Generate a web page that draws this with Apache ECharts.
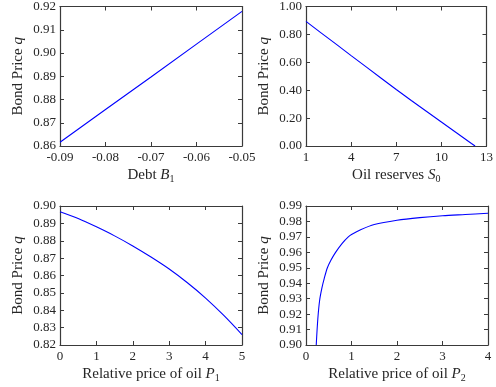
<!DOCTYPE html>
<html>
<head>
<meta charset="utf-8">
<script src="https://cdn.jsdelivr.net/npm/echarts@6/dist/echarts.min.js"></script>
<style>
  html, body { margin: 0; padding: 0; background: #ffffff; }
  #chart { width: 496px; height: 387px; }
</style>
</head>
<body>
<div id="chart"></div>
<script>
// Bond price q against debt, reserves and oil prices
const debtB1 = [-0.09, -0.08, -0.07, -0.06, -0.05];
const qDebt = [0.8616, 0.8757, 0.8897, 0.9038, 0.9179];

const reservesS0 = [1, 2, 3, 4, 5, 6, 7, 8, 9, 10, 11, 12, 12.24];
const qReserves = [0.893, 0.811, 0.730, 0.648, 0.567, 0.486, 0.405, 0.326, 0.249, 0.172, 0.095, 0.018, 0.0];

const priceP1 = [0, 0.5, 1, 1.5, 2, 2.5, 3, 3.5, 4, 4.5, 5];
const qP1 = [0.8967, 0.8928, 0.8880, 0.8828, 0.8770, 0.8706, 0.8637, 0.8558, 0.8470, 0.8370, 0.8260];

const priceP2 = [0.225, 0.26, 0.30, 0.35, 0.40, 0.47, 0.55, 0.65, 0.80, 0.93, 1.0, 1.2, 1.5, 2.0, 2.5, 3.0, 3.5, 4.0];
const qP2 = [0.900, 0.917, 0.929, 0.937, 0.943, 0.950, 0.955, 0.960, 0.966, 0.970, 0.9715, 0.9746, 0.978, 0.9808, 0.9825, 0.9837, 0.9845, 0.9853];

// Tick values
const ticksDebt = [-0.09, -0.08, -0.07, -0.06, -0.05];
const ticksQDebt = [0.86, 0.87, 0.88, 0.89, 0.90, 0.91, 0.92];
const ticksS0 = [1, 4, 7, 10, 13];
const ticksQReserves = [0, 0.2, 0.4, 0.6, 0.8, 1.0];
const ticksP1 = [0, 1, 2, 3, 4, 5];
const ticksQP1 = [0.82, 0.83, 0.84, 0.85, 0.86, 0.87, 0.88, 0.89, 0.90];
const ticksP2 = [0, 1, 2, 3, 4];
const ticksQP2 = [0.90, 0.91, 0.92, 0.93, 0.94, 0.95, 0.96, 0.97, 0.98, 0.99];

const FONT = 'Liberation Serif';
const INK = '#262626';
const AXIS = '#3a3a3a';

const rich = {
  it: { fontFamily: FONT, fontStyle: 'italic', fontSize: 15, color: INK },
  sub: { fontFamily: FONT, fontSize: 10, color: INK, padding: [7, 0, 0, 0] }
};

const panels = [
  { left: 60, top: 6, height: 140, x: debtB1, y: qDebt, xr: [-0.09, -0.05], yr: [0.86, 0.92],
    xt: ticksDebt, yt: ticksQDebt, xd: 2, yd: 2, smooth: false, xName: 'Debt {it|B}{sub|1}' },
  { left: 306, top: 6, height: 140, x: reservesS0, y: qReserves, xr: [1, 13], yr: [0, 1],
    xt: ticksS0, yt: ticksQReserves, xd: 0, yd: 2, smooth: false, xName: 'Oil reserves {it|S}{sub|0}' },
  { left: 60, top: 206, height: 139, x: priceP1, y: qP1, xr: [0, 5], yr: [0.82, 0.90],
    xt: ticksP1, yt: ticksQP1, xd: 0, yd: 2, smooth: 0.3, xName: 'Relative price of oil {it|P}{sub|1}' },
  { left: 306, top: 206, height: 139, x: priceP2, y: qP2, xr: [0, 4], yr: [0.90, 0.99],
    xt: ticksP2, yt: ticksQP2, xd: 0, yd: 2, smooth: 0.3, xName: 'Relative price of oil {it|P}{sub|2}' }
];

const grid = [], xAxis = [], yAxis = [], series = [];

panels.forEach((p, i) => {
  grid.push({ left: p.left, top: p.top, width: 182, height: p.height, containLabel: false });
  const line = { show: true, onZero: false, lineStyle: { color: AXIS, width: 1.2 } };
  const tick = (vals) => ({ show: true, inside: true, length: 4, customValues: vals, lineStyle: { color: AXIS, width: 1 } });
  xAxis.push({
    type: 'value', gridIndex: i, position: 'bottom', min: p.xr[0], max: p.xr[1],
    axisLine: line, axisTick: tick(p.xt), splitLine: { show: false },
    axisLabel: { customValues: p.xt, margin: 5, color: INK, fontFamily: FONT, fontSize: 13,
      formatter: (v) => Number(v).toFixed(p.xd), showMinLabel: true, showMaxLabel: true, hideOverlap: false },
    name: p.xName, nameLocation: 'middle', nameGap: 21,
    nameTextStyle: { fontFamily: FONT, fontSize: 15, color: INK, rich: rich }
  });
  xAxis.push({
    type: 'value', gridIndex: i, position: 'top', min: p.xr[0], max: p.xr[1],
    axisLine: line, axisTick: tick(p.xt), axisLabel: { show: false }, splitLine: { show: false }
  });
  yAxis.push({
    type: 'value', gridIndex: i, position: 'left', min: p.yr[0], max: p.yr[1],
    axisLine: line, axisTick: tick(p.yt), splitLine: { show: false },
    axisLabel: { customValues: p.yt, margin: 4, color: INK, fontFamily: FONT, fontSize: 13,
      formatter: (v) => Number(v).toFixed(p.yd), showMinLabel: true, showMaxLabel: true, hideOverlap: false },
    name: 'Bond Price {it|q}', nameLocation: 'middle', nameGap: 34,
    nameTextStyle: { fontFamily: FONT, fontSize: 15, color: INK, rich: rich }
  });
  yAxis.push({
    type: 'value', gridIndex: i, position: 'right', min: p.yr[0], max: p.yr[1],
    axisLine: line, axisTick: tick(p.yt), axisLabel: { show: false }, splitLine: { show: false }
  });
  series.push({
    type: 'line', xAxisIndex: 2 * i, yAxisIndex: 2 * i,
    data: p.x.map((v, k) => [v, p.y[k]]),
    showSymbol: false, smooth: p.smooth, clip: true,
    lineStyle: { color: '#0000ff', width: 1.1 }, animation: false
  });
});

const chart = echarts.init(document.getElementById('chart'), null, { renderer: 'canvas' });
chart.setOption({ animation: false, backgroundColor: '#ffffff', grid, xAxis, yAxis, series });
</script>
</body>
</html>
